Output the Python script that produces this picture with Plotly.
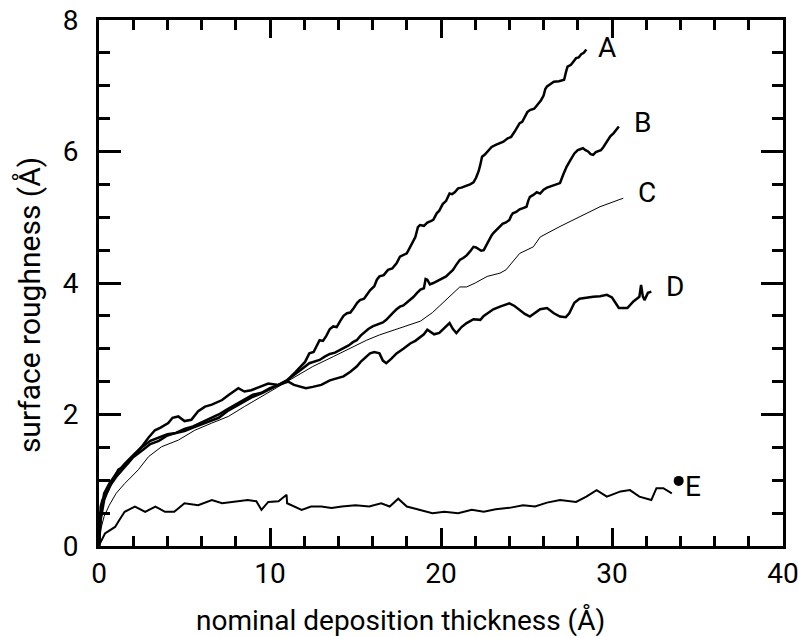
import plotly.graph_objects as go

# ---------------- data ----------------
a_x = [0, 0.1, 0.3, 0.6, 1.0, 1.5, 2.0, 2.5, 3.0, 3.5, 4.0, 4.5, 5.0, 5.5, 6.0, 6.5, 7.0, 7.5, 8.0, 8.5,
       9.0, 9.5, 10.0, 10.5, 11.0, 11.5, 11.85, 12.05, 12.3, 12.55, 12.9, 13.1, 13.3, 13.5, 13.7, 13.9,
       14.1, 14.3, 14.5, 14.7, 14.9, 15.1, 15.26, 15.5, 15.85, 16.1, 16.25, 16.4, 16.65, 16.9, 17.15,
       17.4, 17.6, 17.8, 18.0, 18.2, 18.35, 18.5, 18.65, 18.77, 19.0, 19.2, 19.4, 19.55, 19.75, 19.9,
       20.1, 20.3, 20.5, 20.65, 20.8, 21.0, 21.2, 21.35, 21.5, 21.7, 21.9, 22.05, 22.2, 22.3, 22.4,
       22.55, 22.7, 22.85, 22.96, 23.2, 23.4, 23.65, 23.9, 24.1, 24.3, 24.45, 24.6, 24.75, 24.9, 25.05,
       25.2, 25.45, 25.7, 25.85, 26.0, 26.1, 26.2, 26.4, 26.6, 26.9, 27.2, 27.3, 27.4, 27.6, 27.9,
       28.05, 28.2, 28.35, 28.5]
a_y = [0, 0.4, 0.7, 0.9, 1.05, 1.2, 1.35, 1.45, 1.55, 1.6, 1.68, 1.72, 1.78, 1.82, 1.88, 1.95, 2.0, 2.08,
       2.15, 2.22, 2.3, 2.33, 2.4, 2.45, 2.52, 2.65, 2.75, 2.8, 2.93, 2.95, 3.13, 3.12, 3.2, 3.3, 3.34,
       3.33, 3.42, 3.5, 3.54, 3.55, 3.62, 3.7, 3.74, 3.76, 3.89, 3.95, 4.05, 4.1, 4.12, 4.2, 4.22,
       4.3, 4.4, 4.42, 4.45, 4.55, 4.62, 4.7, 4.85, 4.88, 4.87, 4.92, 4.94, 4.96, 5.06, 5.1,
       5.2, 5.25, 5.36, 5.35, 5.38, 5.44, 5.45, 5.46, 5.48, 5.5, 5.53, 5.6, 5.7, 5.8, 5.92,
       5.95, 6.0, 6.05, 6.07, 6.1, 6.12, 6.15, 6.2, 6.22, 6.3, 6.36, 6.43, 6.45, 6.52, 6.6,
       6.63, 6.65, 6.73, 6.78, 6.85, 6.95, 6.99, 7.02, 7.06, 7.07, 7.09, 7.2, 7.29, 7.32, 7.42,
       7.43, 7.48, 7.5, 7.55]

b_x = [0, 0.1, 0.3, 0.6, 1.0, 1.5, 2.0, 2.5, 3.0, 3.5, 4.0, 4.5, 5.0, 5.5, 6.0, 6.5, 7.0, 7.5, 8.0, 8.5,
       9.0, 9.5, 10.0, 10.5, 11.0, 11.75, 12.0, 12.3, 12.6, 12.9, 13.2, 13.5, 13.8, 14.1, 14.35, 14.6,
       14.85, 15.07, 15.3, 15.5, 15.75, 16.0, 16.2, 16.4, 16.6, 16.8, 17.0, 17.2, 17.4, 17.6, 17.8, 18.0,
       18.2, 18.4, 18.6, 18.8, 19.0, 19.1, 19.2, 19.35, 19.55, 19.75, 19.9, 20.1, 20.3, 20.5, 20.7, 20.9,
       21.1, 21.3, 21.5, 21.7, 21.9, 22.05, 22.2, 22.35, 22.5, 22.65, 22.8, 22.95, 23.06, 23.25, 23.4,
       23.6, 23.8, 24.0, 24.1, 24.2, 24.4, 24.6, 24.8, 25.0, 25.1, 25.2, 25.4, 25.6, 25.8, 26.0, 26.2,
       26.4, 26.6, 26.8, 26.96, 27.15, 27.35, 27.55, 27.8, 28.0, 28.3, 28.45, 28.6, 28.75, 28.9, 29.05,
       29.2, 29.35, 29.5, 29.7, 29.9, 30.1, 30.25, 30.4]
b_y = [0, 0.5, 0.8, 0.95, 1.1, 1.25, 1.38, 1.5, 1.6, 1.65, 1.7, 1.72, 1.75, 1.8, 1.85, 1.9, 1.95, 2.05,
       2.12, 2.2, 2.27, 2.32, 2.38, 2.45, 2.52, 2.68, 2.72, 2.78, 2.8, 2.83, 2.88, 2.92, 2.94, 2.98, 3.02,
       3.05, 3.1, 3.13, 3.2, 3.25, 3.3, 3.34, 3.36, 3.38, 3.4, 3.44, 3.5, 3.55, 3.6, 3.64, 3.66, 3.7,
       3.75, 3.79, 3.85, 3.9, 3.92, 4.06, 4.05, 3.98, 4.0, 4.03, 4.05, 4.07, 4.1, 4.15, 4.2, 4.28,
       4.35, 4.38, 4.42, 4.48, 4.55, 4.54, 4.52, 4.49, 4.5, 4.58, 4.65, 4.72, 4.76, 4.81, 4.86,
       4.9, 4.92, 4.96, 5.02, 5.06, 5.08, 5.12, 5.14, 5.16, 5.25, 5.31, 5.34, 5.38, 5.36, 5.42, 5.45,
       5.47, 5.49, 5.5, 5.52, 5.65, 5.77, 5.86, 5.97, 6.02, 6.05, 6.02, 6.0, 5.96, 5.95, 5.99,
       6.0, 6.02, 6.07, 6.15, 6.23, 6.28, 6.33, 6.38]

c_x = [0, 0.1, 0.3, 0.6, 1.0, 1.5, 2.0, 2.3, 2.9, 3.66, 4.64, 5.6, 6.6, 7.56, 8.5, 9.5, 10.5, 11.5, 12.5,
       13.7, 14.9, 15.65, 16.4, 17.2, 18.0, 18.8, 19.5, 20.3, 21.1, 21.5, 22.0, 22.7, 23.45, 23.8, 24.6,
       25.4, 25.8, 26.96, 28.1, 29.3, 30.66]
c_y = [0, 0.25, 0.45, 0.62, 0.8, 0.95, 1.08, 1.16, 1.36, 1.51, 1.61, 1.76, 1.87, 1.97, 2.12, 2.27, 2.42,
       2.58, 2.73, 2.88, 3.03, 3.13, 3.21, 3.28, 3.34, 3.42, 3.55, 3.74, 3.94, 3.94, 4.0, 4.1, 4.15, 4.2,
       4.45, 4.55, 4.7, 4.86, 5.01, 5.16, 5.29]

d_x = [0, 0.1, 0.2, 0.54, 0.8, 1.13, 1.4, 1.7, 2.1, 2.5, 2.9, 3.27, 3.6, 4.05, 4.3, 4.64, 5.0, 5.4, 5.8,
       6.2, 6.6, 7.2, 7.6, 8.15, 8.5, 8.9, 9.4, 9.9, 10.5, 11.07, 11.4, 11.75, 12.1, 12.5, 13.0, 13.5,
       13.9, 14.3, 14.7, 15.07, 15.3, 15.5, 15.85, 16.1, 16.4, 16.6, 16.8, 17.1, 17.4, 17.8, 18.2, 18.5,
       18.77, 19.0, 19.2, 19.6, 19.9, 20.2, 20.5, 20.7, 20.9, 21.2, 21.5, 21.9, 22.3, 22.5, 22.7, 23.06,
       23.45, 23.7, 24.0, 24.3, 24.6, 24.9, 25.2, 25.5, 25.8, 26.2, 26.6, 26.96, 27.3, 27.5, 27.8, 28.1,
       28.5, 28.9, 29.3, 29.7, 30.0, 30.2, 30.4, 30.9, 31.25, 31.6, 31.7, 31.8, 31.9, 32.1, 32.3]
d_y = [0, 0.6, 0.7, 0.85, 1.0, 1.16, 1.2, 1.26, 1.4, 1.51, 1.65, 1.76, 1.8, 1.87, 1.95, 1.97, 1.9, 1.92,
       2.05, 2.12, 2.15, 2.22, 2.3, 2.4, 2.35, 2.37, 2.42, 2.47, 2.45, 2.5, 2.45, 2.42, 2.4, 2.42, 2.45,
       2.52, 2.55, 2.58, 2.65, 2.73, 2.8, 2.85, 2.93, 2.95, 2.93, 2.82, 2.78, 2.85, 2.93, 3.0, 3.08, 3.12,
       3.18, 3.22, 3.29, 3.22, 3.24, 3.32, 3.39, 3.3, 3.24, 3.33, 3.39, 3.45, 3.44, 3.5, 3.54, 3.6,
       3.64, 3.66, 3.69, 3.65, 3.59, 3.53, 3.49, 3.55, 3.6, 3.62, 3.54, 3.49, 3.48, 3.54, 3.7, 3.76,
       3.78, 3.79, 3.8, 3.82, 3.78, 3.7, 3.62, 3.62, 3.72, 3.79, 3.97, 3.8, 3.74, 3.85, 3.87]

e_x = [0, 0.06, 0.35, 0.94, 1.2, 1.5, 2.1, 2.7, 3.3, 3.86, 4.4, 5.0, 5.8, 6.6, 7.2, 7.95, 8.7, 9.2, 9.5,
       9.9, 10.5, 10.97, 11.0, 11.85, 12.4, 13.0, 13.6, 14.2, 15.0, 15.8, 16.5, 17.0, 17.5, 18.0, 18.8,
       19.5, 20.2, 21.0, 21.8, 22.5, 23.2, 24.0, 24.8, 25.5, 26.2, 26.96, 27.9, 28.5, 29.1, 29.7, 30.5,
       31.05, 31.6, 32.3, 32.6, 33.0, 33.5]
e_y = [0, 0.04, 0.19, 0.29, 0.4, 0.52, 0.6, 0.52, 0.6, 0.52, 0.52, 0.65, 0.62, 0.7, 0.65, 0.67, 0.7,
       0.68, 0.55, 0.67, 0.68, 0.78, 0.65, 0.55, 0.6, 0.6, 0.58, 0.6, 0.62, 0.6, 0.65, 0.6, 0.72, 0.6,
       0.55, 0.5, 0.52, 0.5, 0.55, 0.52, 0.56, 0.58, 0.62, 0.6, 0.66, 0.7, 0.67, 0.75, 0.85, 0.75, 0.83,
       0.85, 0.75, 0.7, 0.88, 0.88, 0.8]
e_dot = (33.9, 0.99)

label_text = ["A", "B", "C", "D", "E"]
label_x = [29.7, 31.8, 32.05, 33.7, 34.74]
label_y = [7.58, 6.44, 5.38, 3.95, 0.9]

x_title = "nominal deposition thickness (Å)"
y_title = "surface roughness (Å)"

FONT = "Roboto"
FS = 28

fig = go.Figure()
series = [(a_x, a_y, 2.5), (b_x, b_y, 2.5), (c_x, c_y, 1.0), (d_x, d_y, 2.5), (e_x, e_y, 2.0)]
for xs, ys, w in series:
    fig.add_trace(go.Scatter(x=xs, y=ys, mode="lines",
                             line=dict(color="black", width=w), showlegend=False))
fig.add_trace(go.Scatter(x=[e_dot[0]], y=[e_dot[1]], mode="markers",
                         marker=dict(color="black", size=10), showlegend=False))

for t, lx, ly in zip(label_text, label_x, label_y):
    fig.add_annotation(x=lx, y=ly, text=t, showarrow=False,
                       font=dict(family=FONT, size=FS, color="black"),
                       xanchor="center", yanchor="middle")

fig.add_annotation(xref="paper", yref="paper", x=0.4415, y=-0.1407, text=x_title,
                   showarrow=False, font=dict(family=FONT, size=FS, color="black"),
                   xanchor="center", yanchor="middle")
fig.add_annotation(xref="paper", yref="paper", x=-0.1023, y=0.458, text=y_title,
                   textangle=-90, showarrow=False,
                   font=dict(family=FONT, size=30, color="black"),
                   xanchor="center", yanchor="middle")

axis_common = dict(showline=True, linewidth=3, linecolor="black", mirror="ticks",
                   ticks="inside", tickwidth=2.5, tickcolor="black",
                   showgrid=False, zeroline=False, automargin=False,
                   ticklabeloverflow="allow",
                   tickfont=dict(family=FONT, size=FS, color="black"))

fig.update_xaxes(range=[0, 40], tick0=0, dtick=10, ticklen=18,
                 minor=dict(dtick=2, ticklen=10, tickwidth=2.5, tickcolor="black", ticks="inside"),
                 **axis_common)
fig.update_yaxes(range=[0, 8], tick0=0, dtick=2, ticklen=22, ticklabelstandoff=12,
                 minor=dict(dtick=0.5, ticklen=11, tickwidth=2.5, tickcolor="black", ticks="inside"),
                 **axis_common)

fig.update_layout(width=798, height=636, margin=dict(l=99, r=15, t=20, b=90, autoexpand=False),
                  plot_bgcolor="white", paper_bgcolor="white",
                  font=dict(family=FONT, size=FS, color="black"))

fig.write_html("out.html")
